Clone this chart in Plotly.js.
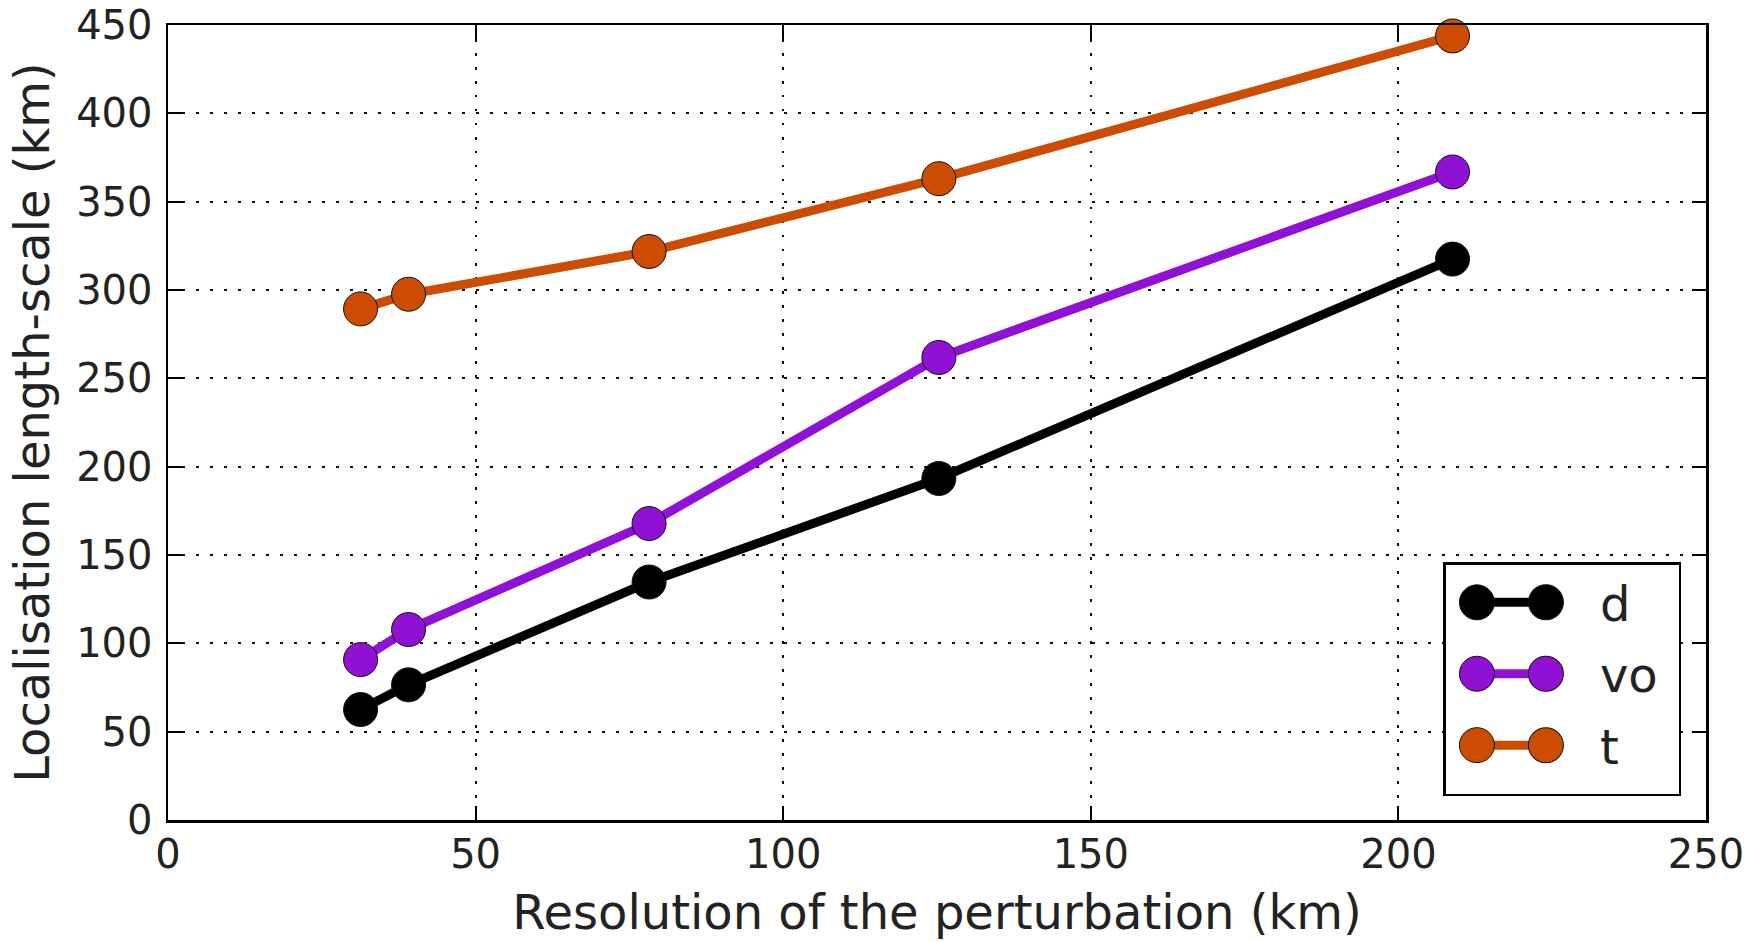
<!DOCTYPE html>
<html>
<head>
<meta charset="utf-8">
<script src="https://cdn.plot.ly/plotly-3.0.1.min.js"></script>
<style>html,body{margin:0;padding:0;background:#fff;}#chart{width:1745px;height:942px;}</style>
</head>
<body>
<div id="chart"></div>
<script>
// Data
const resolution = [31.3, 39.1, 78.2, 125.3, 208.8];
const seriesNames = ["d", "vo", "t"];
const dValues = [62.5, 76.5, 134.7, 193.3, 317.5];
const voValues = [90.8, 107.8, 167.8, 261.8, 366.8];
const tValues = [289.3, 297.6, 321.8, 363.0, 443.8];
const xTicks = [0, 50, 100, 150, 200, 250];
const yTicks = [0, 50, 100, 150, 200, 250, 300, 350, 400, 450];

const colors = ["#000000", "#9010d6", "#cc4c02"];
const values = [dValues, voValues, tValues];

const FONT = "DejaVu Sans, Liberation Sans, sans-serif";

const traces = seriesNames.map((name, i) => ({
  type: "scatter",
  mode: "lines+markers",
  name: name === "vo" ? name + "\u00a0" : name,
  legendgroup: name,
  x: resolution,
  y: values[i],
  line: {color: colors[i], width: 9},
  marker: {color: colors[i], size: 34, line: {color: "#111", width: 1}},
  cliponaxis: false
}));

const axisCommon = {
  showline: true,
  linecolor: "#000",
  linewidth: 2.5,
  mirror: "allticks",
  ticks: "inside",
  ticklen: 14,
  tickwidth: 2,
  tickcolor: "#000",
  showgrid: true,
  gridcolor: "#111",
  gridwidth: 2,
  griddash: "2.5px,11.5px",
  zeroline: false,
  tickfont: {family: FONT, size: 40, color: "#222"}
};

const layout = {
  width: 1745,
  height: 942,
  margin: {l: 168, r: 39, t: 25, b: 122},
  paper_bgcolor: "#fff",
  plot_bgcolor: "#fff",
  showlegend: true,
  legend: {
    x: 0.984, xanchor: "right",
    y: 0.03, yanchor: "bottom",
    bgcolor: "#fff",
    bordercolor: "#000",
    borderwidth: 2.5,
    font: {family: FONT, size: 48, color: "#222"},
    itemwidth: 144,
    tracegroupgap: 6,
    traceorder: "grouped"
  },
  xaxis: Object.assign({}, axisCommon, {
    range: [0, 250],
    tickvals: xTicks,
    ticktext: xTicks.map(String),
    ticklabelstandoff: -3,
    title: {text: "Resolution of the perturbation (km)", font: {family: FONT, size: 48, color: "#222"}, standoff: 20}
  }),
  yaxis: Object.assign({}, axisCommon, {
    range: [0, 450],
    tickvals: yTicks,
    ticktext: yTicks.map(String),
    ticklabelstandoff: 5,
    title: {text: "Localisation length-scale (km)", font: {family: FONT, size: 48, color: "#222"}, standoff: 12}
  })
};

Plotly.newPlot("chart", traces, layout, {displayModeBar: false, staticPlot: true}).then(gd => {
  // Style legend symbols like the reference: a marker at each end of the line sample
  const items = gd.querySelectorAll(".legend .traces");
  items.forEach(item => {
    const line = item.querySelector("path.js-line");
    const pt = item.querySelector("path.scatterpts");
    const x1 = 31, x2 = 100;
    if (line) line.setAttribute("d", "M" + x1 + ",0H" + x2);
    if (pt) {
      const scale = 35 / 16;
      pt.setAttribute("transform", "translate(" + x1 + ",0) scale(" + scale + ")");
      pt.style.strokeWidth = (1 / scale) + "px";
      const pt2 = pt.cloneNode(true);
      pt2.setAttribute("transform", "translate(" + x2 + ",0) scale(" + scale + ")");
      pt.parentNode.appendChild(pt2);
    }
  });
  // Extra bottom padding inside the legend box
  const leg = gd.querySelector("g.legend");
  const bg = leg && leg.querySelector("rect.bg");
  if (leg && bg) {
    const extra = 10;
    const h = parseFloat(bg.getAttribute("height"));
    bg.setAttribute("height", h + extra);
    const m = /translate\(\s*([-\d.]+)[ ,]+([-\d.]+)\s*\)/.exec(leg.getAttribute("transform") || "");
    if (m) leg.setAttribute("transform", "translate(" + m[1] + "," + (parseFloat(m[2]) - extra) + ")");
  }
});
</script>
</body>
</html>
